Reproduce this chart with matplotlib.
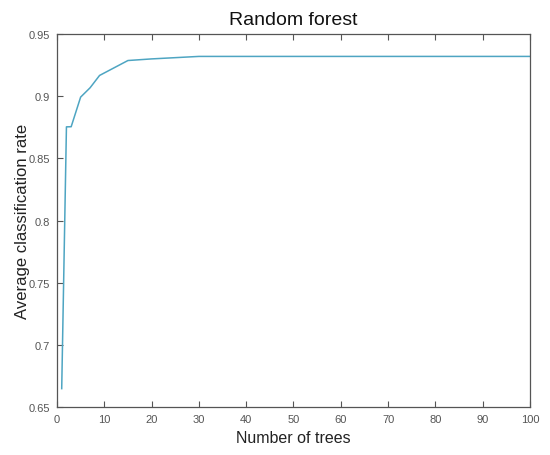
import numpy as np
from matplotlib import pyplot as plt

# values
n_trees = [1, 2, 3, 5, 7, 9, 15, 20, 30, 100]
avg_rate = [0.665, 0.8754, 0.8755, 0.8993, 0.9068, 0.9167, 0.9287, 0.9300, 0.9320, 0.9320]

xticks = np.arange(0, 101, 10)
yticks = [0.65, 0.7, 0.75, 0.8, 0.85, 0.9, 0.95]
ytick_labels = ['0.65', '0.7', '0.75', '0.8', '0.85', '0.9', '0.95']

plt.rcParams['font.family'] = ['Arial', 'Liberation Sans', 'DejaVu Sans']

fig = plt.figure(figsize=(5.5, 4.56), dpi=100)
ax = fig.add_axes([0.1036, 0.1046, 0.86, 0.8186])

ax.plot(n_trees, avg_rate, color='#4ea5c2', lw=1.1)

ax.set_xlim(0, 100)
ax.set_ylim(0.65, 0.95)
ax.set_xticks(xticks)
ax.set_yticks(yticks)
ax.set_yticklabels(ytick_labels)
ax.tick_params(direction='in', length=4, width=0.8, colors='#555555',
               labelsize=8, top=True, right=False, pad=5)
for s in ax.spines.values():
    s.set_color('#555555')
    s.set_linewidth(0.9)

ax.set_title('Random forest', fontsize=14, color='#111111', pad=7)
ax.set_xlabel('Number of trees', fontsize=11.5, color='#222222', labelpad=4)
ax.set_ylabel('Average classification rate', fontsize=12, color='#222222')
ax.yaxis.set_label_coords(-0.058, 0.5)

plt.savefig('out.png', dpi=100)
plt.close()
